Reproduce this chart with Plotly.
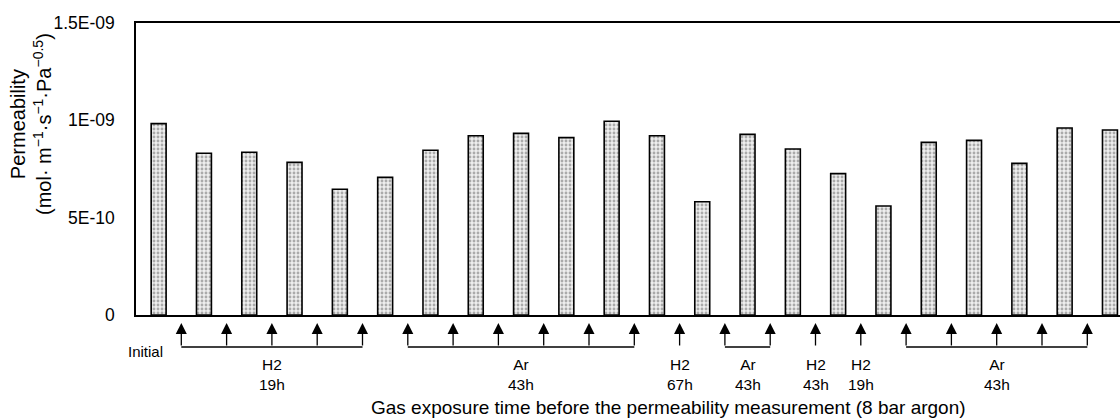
import plotly.graph_objects as go

# ---- data ----
bar_index = list(range(22))
permeability = [0.983e-9, 0.831e-9, 0.836e-9, 0.784e-9, 0.646e-9, 0.707e-9, 0.846e-9,
                0.921e-9, 0.933e-9, 0.911e-9, 0.995e-9, 0.921e-9, 0.582e-9, 0.928e-9,
                0.853e-9, 0.726e-9, 0.560e-9, 0.887e-9, 0.897e-9, 0.779e-9, 0.961e-9,
                0.950e-9]

# exposure groups: arrows placed between bar k-1 and bar k for k in start..end
group_gas = ["H2", "Ar", "H2", "Ar", "H2", "H2", "Ar"]
group_time = ["19h", "43h", "67h", "43h", "43h", "19h", "43h"]
group_start = [1, 6, 12, 13, 15, 16, 17]
group_end = [5, 11, 12, 14, 15, 16, 21]

y_tickvals = [0, 5e-10, 1e-9, 1.5e-9]
y_ticktext = ["0", "5E-10", "1E-09", "1.5E-09"]

# ---- layout geometry (pixels) ----
W, H = 1120, 420
ML, MT, MB, MR = 136, 23, 105, 0
PLOT_H = H - MT - MB
CAT_PX = 45.3
PLOT_W = W - ML - MR


def py(pix):
    """convert pixel row to paper y"""
    return (H - MB - pix) / PLOT_H


FONT = "Liberation Sans, Arial, Helvetica, sans-serif"

fig = go.Figure()
fig.add_trace(go.Bar(
    x=bar_index, y=permeability,
    width=0.33,
    marker=dict(
        color="#eeeeee",
        line=dict(color="black", width=1.6),
        pattern=dict(shape=".", fgcolor="#666666", bgcolor="#eeeeee", size=4, solidity=0.4),
    ),
    showlegend=False,
))

annotations = []
shapes = []
for gas, t, s, e in zip(group_gas, group_time, group_start, group_end):
    for k in range(s, e + 1):
        annotations.append(dict(
            x=k - 0.5, y=py(323), xref="x", yref="paper", text="",
            showarrow=True, ax=0, ay=24, arrowhead=2, arrowsize=1.7, arrowwidth=1.3,
            arrowcolor="black", standoff=0, startstandoff=0,
        ))
    if e > s:
        shapes.append(dict(type="line", xref="x", yref="paper",
                           x0=s - 0.5, x1=e - 0.5, y0=py(347), y1=py(347),
                           line=dict(color="black", width=1.3)))
    annotations.append(dict(
        x=(s + e) / 2 - 0.5, y=py(374), xref="x", yref="paper",
        text=f"{gas}<br>{t}", showarrow=False, xanchor="center", yanchor="middle",
        font=dict(size=15.5, color="black", family=FONT),
    ))

annotations.append(dict(
    x=bar_index[0] + 0.15, y=py(351), xref="x", yref="paper", text="Initial",
    showarrow=False, xanchor="right", yanchor="middle",
    font=dict(size=15, color="black", family=FONT),
))
annotations.append(dict(
    x=(668 - ML) / PLOT_W, y=py(407), xref="paper", yref="paper",
    text="Gas exposure time before the permeability measurement (8 bar argon)",
    showarrow=False, xanchor="center", yanchor="middle",
    font=dict(size=19, color="black", family=FONT),
))
annotations.append(dict(
    x=(31 - ML) / PLOT_W, y=py(124), xref="paper", yref="paper",
    text="Permeability<br>(mol· m<sup>−1</sup>·s<sup>−1</sup>·Pa<sup>−0.5</sup>)",
    showarrow=False, textangle=-90, xanchor="center", yanchor="middle",
    font=dict(size=20, color="black", family=FONT),
))

fig.update_layout(
    width=W, height=H,
    margin=dict(l=ML, r=MR, t=MT, b=MB, pad=0),
    paper_bgcolor="white", plot_bgcolor="white",
    font=dict(family=FONT, color="black"),
    annotations=annotations, shapes=shapes,
    bargap=0.67,
)
fig.update_xaxes(
    range=[-0.5, -0.5 + PLOT_W / CAT_PX],
    showticklabels=False, ticks="", showgrid=False, zeroline=False,
    showline=True, linecolor="black", linewidth=1.5, mirror=True,
)
fig.update_yaxes(
    range=[0, 1.5e-9], tickvals=y_tickvals, ticktext=y_ticktext,
    showgrid=False, zeroline=False, ticks="",
    showline=True, linecolor="black", linewidth=1.5,
    tickfont=dict(size=17.5, color="black", family=FONT),
    ticklabelstandoff=16,
)

fig.write_html("out.html")
